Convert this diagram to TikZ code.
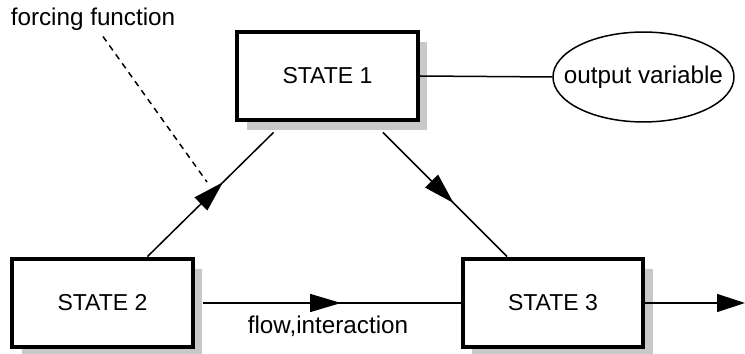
\documentclass[tikz,border=0pt]{standalone}
\usepackage{fontspec}
\setmainfont{Liberation Sans}
\usetikzlibrary{positioning,calc,arrows.meta,shadows,decorations.markings,shapes.geometric}
\definecolor{shade}{RGB}{200,200,200}

\begin{document}
\begin{tikzpicture}[
    x=0.02cm,
    y=-0.02cm,
    every node/.style={font=\fontsize{13.8}{16}\selectfont},
    statebox/.style={
        draw,
        line width=0.08cm,
        fill=white,
        minimum width=3.62cm,
        minimum height=1.78cm,
        font=\fontsize{13.1}{15}\selectfont,
        drop shadow={fill=shade, opacity=1, shadow xshift=0.19cm, shadow yshift=-0.2cm}
    },
    link/.style={
        line width=0.03cm
    },
    midarrow/.style={
        link,
        postaction={decorate},
        decoration={markings,
            mark=at position #1 with {\arrow{Triangle[length=0.62cm,width=0.36cm]}}}
    }
]
\useasboundingbox (0,0) rectangle (745,354);

\node[
    statebox
] (state1) at (327.5,76)
{STATE 1};

\node[
    statebox
] (state2) at (102.5,303)
{STATE 2};

\node[
    statebox
] (state3) at (553,303)
{STATE 3};

\node[
    draw,
    link,
    ellipse,
    inner xsep=0.08cm,
    inner ysep=0.41cm
] (output) at (643.5,77)
{\makebox[2.4cm]{output variable}};

\node (forcing) at (93,19)
{forcing function};

\node (flowlabel) at (328,326)
{flow,interaction};

\coordinate (forceend) at (207,182);
\coordinate (outflow) at (745,303);

\draw[
    link,
    dash pattern=on 0.12cm off 0.1cm
]
([xshift=0.2cm]forcing.south) -- (forceend);

\draw[
    midarrow=0.6
]
([xshift=0.9cm]state2.north) -- ([xshift=-1.08cm,yshift=-0.2cm]state1.south);

\draw[
    midarrow=0.57
]
([xshift=1.11cm,yshift=-0.2cm]state1.south) -- ([xshift=-0.92cm]state3.north);

\draw[
    midarrow=0.55,
    shorten <=0.16cm
]
(state2.east) -- (state3.west);

\draw[
    link
]
(state1.east) -- (output.west);

\draw[
    link,
    -{Triangle[length=0.56cm,width=0.36cm]}
]
(state3.east) -- (outflow);

\end{tikzpicture}
\end{document}
